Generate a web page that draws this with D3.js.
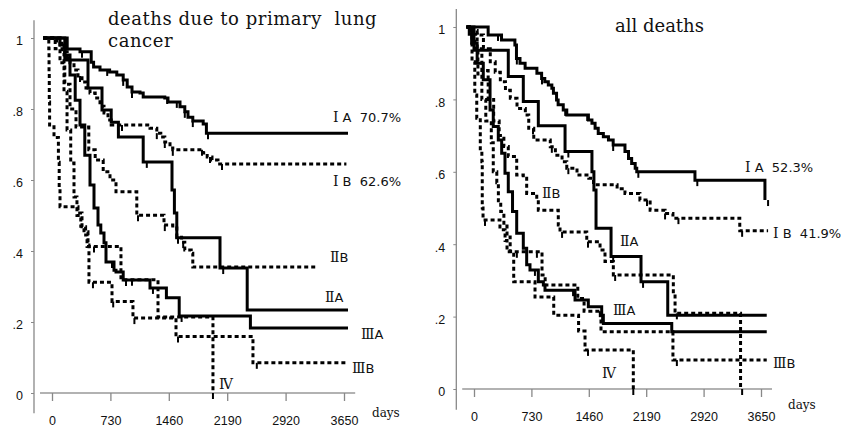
<!DOCTYPE html>
<html>
<head>
<meta charset="utf-8">
<script src="https://cdn.jsdelivr.net/npm/d3@7"></script>
<style>
  body { margin: 0; background: #fff; }
  svg { display: block; }
  .eje text { font-family: 'Liberation Sans', sans-serif; font-size: 12.5px; fill: #111; }
  .eje line { stroke: #888; }
  .titulo { font-family: 'DejaVu Serif', serif; font-size: 18px; fill: #111; }
  .dias { font-family: 'DejaVu Serif', serif; font-size: 12px; fill: #111; }
  .etiqueta { font-family: 'DejaVu Sans', sans-serif; font-size: 13px; fill: #111; }
  .romano { font-family: 'DejaVu Serif', serif; font-size: 14px; }
</style>
</head>
<body>
<div id="graf"></div>
<script>
// I. [días, supervivencia]
diasTicks = [0, 730, 1460, 2190, 2920, 3650]
survTicks = [0, .2, .4, .6, .8, 1]
survEtiquetas = ['0', '.2', '.4', '.6', '.8', '1']

// muertes por cáncer primario de pulmón
iaCancer = [[-110,1],[190,.969],[350,.961],[490,.932],[520,.918],[600,.910],[720,.904],[810,.896],[890,.882],[940,.862],[1000,.848],[1100,.845],[1140,.834],[1410,.831],[1450,.820],[1600,.806],[1660,.792],[1700,.777],[1760,.766],[1890,.758],[1930,.732]]
ibCancer = [[-110,1],[100,.980],[150,.961],[190,.944],[225,.930],[275,.910],[325,.893],[375,.876],[425,.859],[475,.845],[540,.831],[600,.808],[650,.789],[700,.769],[740,.755],[1225,.746],[1310,.732],[1360,.721],[1410,.707],[1475,.690],[1510,.685],[1890,.676],[1940,.665],[2000,.656],[2075,.645]]
iiaCancer = [[-110,1],[160,.938],[450,.859],[625,.797],[740,.763],[830,.721],[1140,.651],[1500,.572],[1530,.507],[1560,.437],[2100,.352],[2440,.234]]
iibCancer = [[-110,1],[40,.97],[100,.93],[160,.87],[225,.80],[300,.749],[460,.685],[540,.656],[640,.623],[725,.60],[800,.567],[1060,.501],[1400,.473],[1510,.465],[1560,.439],[1620,.425],[1660,.403],[1740,.394],[1760,.355]]
iiiaCancer = [[-110,1],[100,.98],[160,.952],[225,.896],[290,.825],[350,.755],[410,.670],[475,.586],[525,.521],[575,.473],[610,.451],[650,.423],[675,.369],[775,.346],[800,.341],[890,.318],[1225,.296],[1430,.268],[1590,.217],[2480,.183]]
iiibCancer = [[-110,1],[-40,.97],[-37,.90],[-34,.82],[-30,.75],[25,.72],[80,.65],[90,.58],[100,.525],[325,.507],[375,.468],[420,.454],[450,.417],[462,.312],[750,.258],[1012,.211],[1550,.159],[2512,.085]]
ivCancer = [[-110,1],[60,.985],[125,.958],[150,.85],[188,.741],[234,.648],[275,.552],[312,.50],[360,.47],[400,.445],[438,.413],[862,.319],[1325,.214],[2012,0]]

finCancer = [3700, 3680, 3700, 3320, 3700, 3700, 2012]
censCancer = [
  [375, 690, 890, 1000, 1440, 1560, 1660, 1760, 1950],
  [350, 875, 1310, 1410, 1510, 1875, 1975, 2125],
  [1185, 1575, 2140],
  [1075, 1410, 1640],
  [750, 925, 1262, 1620],
  [512, 765, 1030, 1575, 2560],
  [525, 1000, 2012]
]

// todas las muertes
iaTodas = [[-95,1],[180,.978],[350,.964],[520,.950],[540,.913],[585,.900],[650,.886],[800,.872],[860,.858],[900,.849],[945,.840],[990,.831],[1010,.817],[1050,.798],[1070,.785],[1135,.771],[1180,.757],[1455,.743],[1500,.734],[1540,.720],[1580,.706],[1645,.697],[1710,.688],[1770,.674],[1920,.656],[1965,.637],[2005,.623],[2050,.610],[2070,.600],[2810,.577],[3700,.522]]
ibTodas = [[-95,1],[-60,.99],[40,.978],[120,.94],[207,.904],[270,.875],[335,.849],[400,.825],[462,.803],[547,.775],[653,.757],[696,.720],[760,.688],[970,.669],[1035,.646],[1120,.628],[1180,.610],[1310,.591],[1460,.582],[1520,.564],[1820,.553],[1920,.540],[2110,.522],[2240,.494],[2430,.485],[2530,.472],[3380,.437]]
iiaTodas = [[-95,1],[0,.936],[436,.863],[627,.794],[818,.727],[1158,.656],[1500,.60],[1525,.55],[1552,.444],[1743,.366],[2124,.296],[2464,.204]]
iibTodas = [[-95,1],[-20,.98],[40,.94],[100,.88],[180,.80],[250,.74],[320,.70],[380,.67],[436,.642],[543,.591],[627,.582],[670,.540],[798,.522],[818,.494],[1072,.453],[1094,.434],[1434,.407],[1603,.384],[1666,.352],[1772,.315],[2535,.264],[2557,.209],[3390,0]]
iiiaTodas = [[-95,1],[-60,.98],[-30,.955],[40,.90],[118,.854],[204,.771],[245,.725],[309,.688],[352,.651],[394,.596],[436,.545],[490,.49],[543,.430],[627,.389],[670,.343],[712,.329],[818,.296],[882,.287],[903,.273],[1285,.246],[1454,.227],[1624,.204],[1645,.181],[2515,.158]]
iiibTodas = [[-95,1],[-30,.978],[-25,.904],[10,.812],[35,.748],[80,.656],[100,.628],[105,.50],[115,.467],[330,.44],[395,.41],[420,.379],[865,.315],[905,.287],[1320,.25],[1400,.215],[1615,.158],[2530,.08]]
ivTodas = [[-95,1],[-20,.97],[10,.93],[50,.87],[100,.80],[150,.74],[220,.68],[245,.60],[290,.57],[310,.52],[340,.49],[380,.45],[420,.42],[460,.38],[505,.296],[776,.254],[1014,.204],[1330,.16],[1412,.108],[2026,0]]

finTodas = [3700, 3740, 3723, 3390, 3723, 3723, 2026]
censTodas = [
  [305, 545, 865, 1160, 1440, 1770, 2090, 2840, 3740],
  [750, 990, 1200, 2200, 2430, 2600, 3410],
  [1200, 1770, 2150],
  [1120, 1450, 1795, 2580, 3410],
  [775, 1260, 1630],
  [140, 545, 800, 1600, 2580],
  [1450, 2026]
]

estadios = ['IA', 'IB', 'IIA', 'IIB', 'IIIA', 'IIIB', 'IV']
punteada = [false, true, false, true, false, true, true]

// etiquetas: [numeral, texto, día, supervivencia]
etiquetasCancer = [
  ['Ⅰ', ' A  70.7%', 3512, .763], ['Ⅰ', ' B  62.6%', 3512, .583],
  ['Ⅱ', 'B', 3475, .369], ['Ⅱ', 'A', 3412, .256],
  ['Ⅲ', 'A', 3862, .152], ['Ⅲ', 'B', 3750, .056], ['Ⅳ', '', 2088, .011]
]
etiquetasTodas = [
  ['Ⅰ', ' A  52.3%', 3447, .599], ['Ⅰ', ' B  41.9%', 3803, .417],
  ['Ⅱ', 'B', 865, .528], ['Ⅱ', 'A', 1857, .395],
  ['Ⅲ', 'A', 1768, .204], ['Ⅲ', 'B', 3803, .058], ['Ⅳ', '', 1628, .030]
]

// II. Configuración
ancho_total = 844
alto_total = 429

svg = d3.select('#graf').append('svg')
        .attr('width', ancho_total)
        .attr('height', alto_total)

paneles = [
  { curvas: [iaCancer, ibCancer, iiaCancer, iibCancer, iiiaCancer, iiibCancer, ivCancer],
    fin: finCancer, cens: censCancer, etiquetas: etiquetasCancer,
    x: d3.scaleLinear().domain([0, 3650]).range([52, 344]),
    y: d3.scaleLinear().domain([0, 1]).range([393, 38]),
    titulo: ['deaths due to primary  lung', 'cancer'], tituloX: 108, tituloY: 25, espaciado: 0.55,
    diasX: 372, diasY: 417 },
  { curvas: [iaTodas, ibTodas, iiaTodas, iibTodas, iiiaTodas, iiibTodas, ivTodas],
    fin: finTodas, cens: censTodas, etiquetas: etiquetasTodas,
    x: d3.scaleLinear().domain([0, 3650]).range([474, 761]),
    y: d3.scaleLinear().domain([0, 1]).range([389, 27]),
    titulo: ['all deaths'], tituloX: 615, tituloY: 32, espaciado: 0,
    diasX: 788, diasY: 409 }
]

function valor(puntos, t) {
  s = puntos[0][1]
  puntos.forEach(p => { if (p[0] <= t) s = p[1] })
  return s
}

// III. Dibujo
paneles.forEach(p => {
  x = p.x
  y = p.y
  g = svg.append('g')

  // ejes
  g.append('line')
    .attr('x1', x(-225)).attr('x2', x(-225))
    .attr('y1', y(1.05)).attr('y2', y(-0.057))
    .attr('stroke', '#888').attr('stroke-width', 1.3)
  g.append('line')
    .attr('x1', x(-150)).attr('x2', x(3790))
    .attr('y1', y(0)).attr('y2', y(0))
    .attr('stroke', '#999').attr('stroke-width', 1.3)

  xAxis = g.append('g')
    .attr('class', 'eje')
    .attr('transform', `translate(0, ${ y(0) })`)
    .call(d3.axisBottom(x).tickValues(diasTicks).tickFormat(d3.format('d')).tickSize(8).tickPadding(15))
  xAxis.select('.domain').remove()
  xAxis.selectAll('line').attr('stroke-width', 1.3)

  yAxis = g.append('g')
    .attr('class', 'eje')
    .attr('transform', `translate(${ x(-225) }, 0)`)
    .call(d3.axisLeft(y).tickValues(survTicks).tickFormat((d, i) => survEtiquetas[i]).tickSize(3).tickPadding(8))
  yAxis.select('.domain').remove()
  yAxis.selectAll('text').attr('dy', '0.55em')

  // curvas
  linea = d3.line()
            .x(d => x(d[0]))
            .y(d => y(d[1]))
            .curve(d3.curveStepAfter)

  p.curvas.forEach((c, i) => {
    pts = c.concat([[p.fin[i], c[c.length - 1][1]]])
    g.append('path')
      .attr('d', linea(pts))
      .attr('fill', 'none')
      .attr('stroke', '#000')
      .attr('stroke-width', 3)
      .attr('stroke-dasharray', punteada[i] ? '4,3' : null)

    g.selectAll(null)
      .data(p.cens[i])
      .enter()
      .append('line')
        .attr('x1', d => x(d)).attr('x2', d => x(d))
        .attr('y1', d => y(valor(c, d)))
        .attr('y2', d => y(valor(c, d)) + 6)
        .attr('stroke', '#000')
        .attr('stroke-width', 2)
  })

  // etiquetas de estadio
  p.etiquetas.forEach(e => {
    t = g.append('text')
      .attr('class', 'etiqueta')
      .attr('x', x(e[2]))
      .attr('y', y(e[3]))
      .style('white-space', 'pre')
    t.append('tspan').attr('class', 'romano').text(e[0])
    t.append('tspan').text(e[1])
  })

  // títulos
  p.titulo.forEach((linea_t, j) => {
    g.append('text')
      .attr('class', 'titulo')
      .attr('x', p.tituloX)
      .attr('y', p.tituloY + j * 22)
      .style('white-space', 'pre')
      .style('letter-spacing', p.espaciado + 'px')
      .text(linea_t)
  })

  g.append('text')
    .attr('class', 'dias')
    .attr('x', p.diasX)
    .attr('y', p.diasY)
    .text('days')
})
</script>
</body>
</html>
